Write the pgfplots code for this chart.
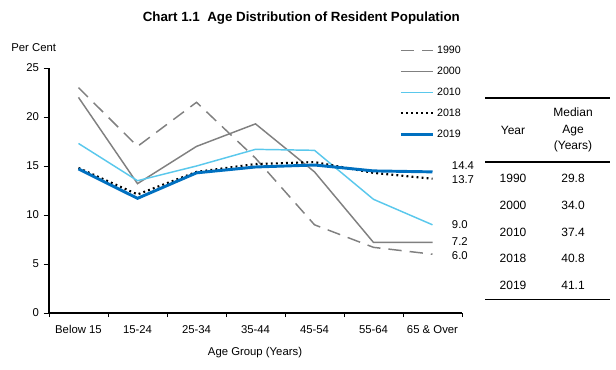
\documentclass[border=0pt]{standalone}
\usepackage{fontspec}
\setmainfont{Liberation Sans}
\usepackage{pgfplots}
\pgfplotsset{compat=1.18}
\definecolor{cgray}{RGB}{128,128,128}
\definecolor{clblue}{RGB}{90,200,236}
\definecolor{cblue}{RGB}{0,112,192}
\begin{document}
\begin{tikzpicture}
\path[use as bounding box] (0,0) rectangle (462pt,276.75pt);
\begin{axis}[
  at={(36.75pt,42pt)}, anchor=south west,
  scale only axis, width=309.75pt, height=183.75pt,
  xmin=-0.5, xmax=6.5, ymin=0, ymax=25,
  axis x line*=bottom, axis y line*=left,
  axis line style={line width=0.8pt,-},
  xtick={0,...,6},
  xticklabels={Below 15,15-24,25-34,35-44,45-54,55-64,65 \& Over},
  major x tick style={draw=none},
  minor xtick={-0.5,0.5,...,6.5},
  minor tick length=3pt,
  ytick={0,5,...,25},
  major tick length=4pt,
  tick align=outside,
  tick style={line width=0.7pt,black},
  ticklabel style={font=\fontsize{8.5}{10}\selectfont},
  /pgf/number format/assume math mode=true,
  xticklabel style={yshift=-2pt},
  clip=false,
  legend style={draw=none, fill=none, at={(0.848,1.102)}, anchor=north west,
    font=\fontsize{8}{9}\selectfont, row sep=4.6pt, inner sep=0pt},
  legend cell align=left,
  legend image code/.code={\draw[#1] (0pt,0pt) -- (24pt,0pt);},
]
\addplot[cgray, line width=1.1pt, dash pattern=on 10pt off 6pt] coordinates {(0,23.0) (1,17.0) (2,21.5) (3,15.8) (4,9.0) (5,6.7) (6,6.0)};
\addlegendentry{1990}
\addplot[cgray, line width=1.1pt] coordinates {(0,22.0) (1,13.2) (2,17.0) (3,19.3) (4,14.4) (5,7.2) (6,7.2)};
\addlegendentry{2000}
\addplot[clblue, line width=1.1pt] coordinates {(0,17.3) (1,13.5) (2,15.0) (3,16.7) (4,16.6) (5,11.6) (6,9.0)};
\addlegendentry{2010}
\addplot[black, line width=1.6pt, dash pattern=on 1.4pt off 2.4pt] coordinates {(0,14.8) (1,12.1) (2,14.4) (3,15.2) (4,15.4) (5,14.3) (6,13.7)};
\addlegendentry{2018}
\addplot[cblue, line width=2.2pt] coordinates {(0,14.7) (1,11.7) (2,14.3) (3,14.9) (4,15.1) (5,14.5) (6,14.4)};
\addlegendentry{2019}
\begin{scope}[font=\fontsize{8.5}{10}\selectfont]
\node[anchor=west] at (axis cs:6.25,15.0) {14.4};
\node[anchor=west] at (axis cs:6.25,13.6) {13.7};
\node[anchor=west] at (axis cs:6.25,9.0) {9.0};
\node[anchor=west] at (axis cs:6.25,7.3) {7.2};
\node[anchor=west] at (axis cs:6.25,5.9) {6.0};
\end{scope}
\end{axis}
\node[font=\bfseries\fontsize{10}{12}\selectfont] at (226pt,263.25pt) {Chart 1.1\ \ Age Distribution of Resident Population};
\node[anchor=west, font=\fontsize{8.5}{10}\selectfont] at (5pt,240.75pt) {Per Cent};
\node[font=\fontsize{8.5}{10}\selectfont] at (191.25pt,12pt) {Age Group (Years)};
% table
\draw[line width=0.8pt] (363.75pt,203.25pt) -- (457.5pt,203.25pt);
\draw[line width=0.8pt] (363.75pt,155.25pt) -- (457.5pt,155.25pt);
\draw[line width=0.8pt] (363.75pt,52pt) -- (457.5pt,52pt);
\begin{scope}[font=\fontsize{9}{12.5}\selectfont]
\node at (384.75pt,179.25pt) {Year};
\node[align=center] at (429.75pt,179.25pt) {Median\\Age\\(Years)};
\node at (384.75pt,143.25pt) {1990}; \node at (429.75pt,143.25pt) {29.8};
\node at (384.75pt,123pt) {2000}; \node at (429.75pt,123pt) {34.0};
\node at (384.75pt,102.75pt) {2010}; \node at (429.75pt,102.75pt) {37.4};
\node at (384.75pt,83.25pt) {2018}; \node at (429.75pt,83.25pt) {40.8};
\node at (384.75pt,63pt) {2019}; \node at (429.75pt,63pt) {41.1};
\end{scope}
\end{tikzpicture}
\end{document}
